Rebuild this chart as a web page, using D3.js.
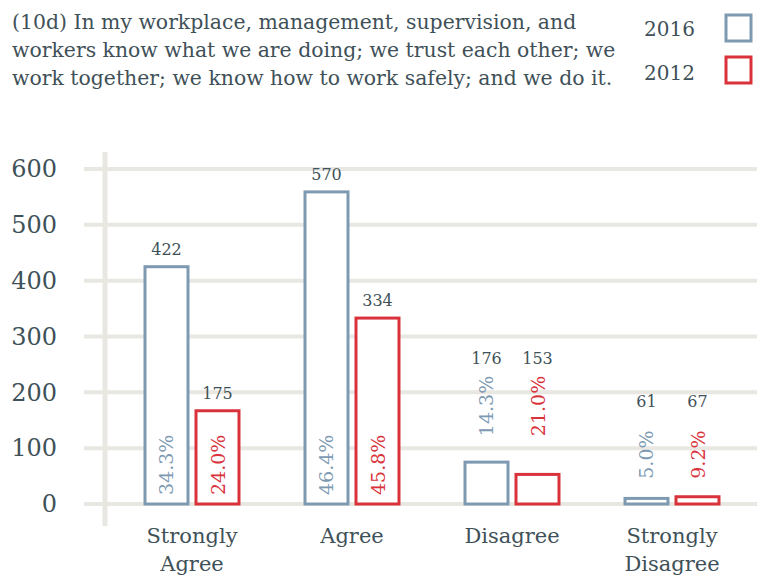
<!DOCTYPE html>
<html>
<head>
<meta charset="utf-8">
<script src="https://cdn.jsdelivr.net/npm/d3@7"></script>
<style>
  body { margin: 0; background: #fff; }
  svg { display: block; font-family: "DejaVu Serif", "Liberation Serif", serif; }
</style>
</head>
<body>
<svg width="757" height="578"></svg>
<script>
const width = 757
const height = 578

// chart data
const titleLines = [
  '(10d) In my workplace, management, supervision, and',
  'workers know what we are doing; we trust each other; we',
  'work together; we know how to work safely; and we do it.'
]
const categories = [['Strongly', 'Agree'], ['Agree'], ['Disagree'], ['Strongly', 'Disagree']]
const years = ['2016', '2012']
// bar heights as drawn in the picture
const bars2016 = [425, 559, 75, 10]
const bars2012 = [167, 333, 53, 13]
// labels printed on the chart
const counts2016 = [422, 570, 176, 61]
const counts2012 = [175, 334, 153, 67]
const pct2016 = ['34.3%', '46.4%', '14.3%', '5.0%']
const pct2012 = ['24.0%', '45.8%', '21.0%', '9.2%']
const yTicks = [0, 100, 200, 300, 400, 500, 600]

const colors = { '2016': '#7e9ab2', '2012': '#d9323b' }
const textColor = '#3f5158'
const gridColor = '#e9e7e1'

const svg = d3.select('svg')

// scales
const y = d3.scaleLinear().domain([0, 600]).range([504, 169])
const x0 = d3.scaleBand().domain(d3.range(categories.length)).range([112, 752])
const x1 = d3.scaleBand().domain(years).range([33, 127]).paddingInner(0.157)

// title
svg.append('text')
  .attr('x', 12).attr('y', 29)
  .attr('fill', textColor)
  .style('font-size', '20.4px')
  .selectAll('tspan')
  .data(titleLines)
  .join('tspan')
    .attr('x', 12)
    .attr('dy', (d, i) => i ? 28 : 0)
    .text(d => d)

// legend
const legend = svg.append('g')
years.forEach((yr, i) => {
  legend.append('text')
    .attr('x', 695).attr('y', 36 + i * 44)
    .attr('text-anchor', 'end')
    .attr('fill', textColor)
    .style('font-size', '20px')
    .text(yr)
  legend.append('rect')
    .attr('x', 726).attr('y', 15 + i * 42)
    .attr('width', 25).attr('height', 26)
    .attr('fill', '#fff')
    .attr('stroke', colors[yr])
    .attr('stroke-width', 3)
})

// grid + y axis
const yAxis = d3.axisLeft(y).tickValues(yTicks).tickSize(0).tickPadding(0)
const gAxis = svg.append('g').attr('transform', 'translate(57,0)').call(yAxis)
gAxis.select('.domain').remove()
gAxis.selectAll('text')
  .attr('fill', textColor)
  .style('font-size', '24px')
  .style('font-family', '"DejaVu Serif", serif')

svg.append('g').selectAll('line')
  .data(yTicks)
  .join('line')
    .attr('x1', 84).attr('x2', width)
    .attr('y1', d => y(d)).attr('y2', d => y(d))
    .attr('stroke', gridColor)
    .attr('stroke-width', 4)

svg.append('line')
  .attr('x1', 105).attr('x2', 105)
  .attr('y1', 152).attr('y2', 526)
  .attr('stroke', gridColor)
  .attr('stroke-width', 5)

// bars
const rows = []
categories.forEach((c, i) => {
  rows.push({ cat: i, year: '2016', h: bars2016[i], count: counts2016[i], pct: pct2016[i] })
  rows.push({ cat: i, year: '2012', h: bars2012[i], count: counts2012[i], pct: pct2012[i] })
})

const groupTop = i => y(Math.max(bars2016[i], bars2012[i]))

rows.forEach(d => {
  d.x = x0(d.cat) + x1(d.year)
  d.cx = d.x + x1.bandwidth() / 2
  d.top = y(d.h)
  d.inside = (y(0) - d.top) > 80
  d.pctBase = d.inside ? y(0) - 9 : groupTop(d.cat) - (d.h > 40 ? 26 : 18)
  d.pctTop = d.pctBase - 56
  d.countY = d.inside ? Math.min(d.top, d.pctTop) - 12 : d.pctTop - 16
})

svg.append('g').selectAll('rect')
  .data(rows)
  .join('rect')
    .attr('x', d => d.x)
    .attr('y', d => d.top)
    .attr('width', x1.bandwidth())
    .attr('height', d => y(0) - d.top)
    .attr('fill', '#fff')
    .attr('stroke', d => colors[d.year])
    .attr('stroke-width', 3)

// percentage labels (rotated)
svg.append('g').selectAll('text')
  .data(rows)
  .join('text')
    .attr('transform', d => `translate(${d.cx + 7},${d.pctBase}) rotate(-90)`)
    .attr('fill', d => colors[d.year])
    .style('font-size', '19px')
    .text(d => d.pct)

// count labels
svg.append('g').selectAll('text')
  .data(rows)
  .join('text')
    .attr('x', d => d.cx)
    .attr('y', d => d.countY)
    .attr('text-anchor', 'middle')
    .attr('fill', textColor)
    .style('font-size', '16px')
    .text(d => d.count)

// category labels
svg.append('g').selectAll('text')
  .data(categories)
  .join('text')
    .attr('x', (d, i) => x0(i) + x0.bandwidth() / 2)
    .attr('y', 543)
    .attr('text-anchor', 'middle')
    .attr('fill', textColor)
    .style('font-size', '21px')
    .selectAll('tspan')
    .data(d => d)
    .join('tspan')
      .attr('x', function() { return this.parentNode.getAttribute('x') })
      .attr('dy', (d, i) => i ? 28 : 0)
      .text(d => d)
</script>
</body>
</html>
